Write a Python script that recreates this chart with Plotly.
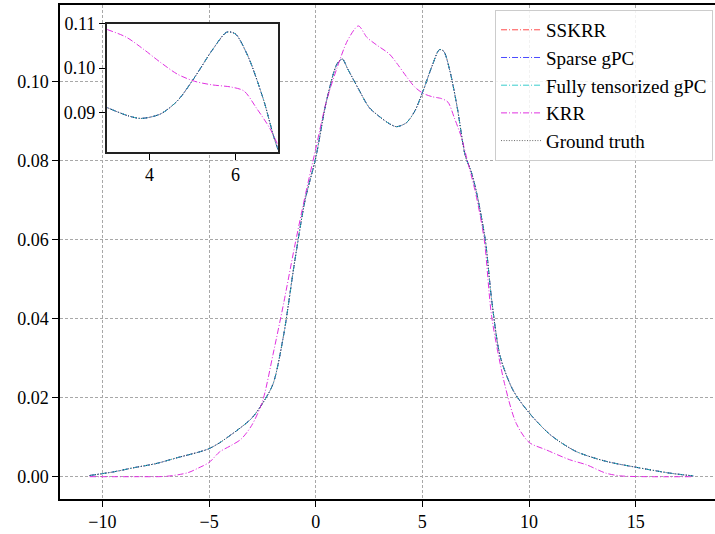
import plotly.graph_objects as go

# ---- data ----
truth_x = [-10.6, -9.5, -8.5, -7.5, -6.5, -5.5, -5.0, -4.5, -4.0, -3.5, -3.0, -2.5, -2.0,
           -1.5, -1.0, -0.5, 0.0, 0.5, 1.0, 1.25, 1.5, 2.0, 2.5, 3.0, 3.5, 3.8, 4.25, 4.65,
           5.05, 5.45, 5.8, 6.0, 6.3, 6.65, 7.0, 7.3, 7.55, 7.95, 8.25, 8.65, 9.25, 10.0,
           11.0, 12.2, 13.6, 15.0, 16.6, 17.7]
truth_y = [0.0003, 0.0012, 0.0023, 0.0033, 0.0048, 0.0062, 0.0071, 0.0086, 0.0105, 0.0125,
           0.0148, 0.0185, 0.0235, 0.036, 0.054, 0.070, 0.0807, 0.095, 0.1045, 0.1057,
           0.1032, 0.0982, 0.0935, 0.0911, 0.0892, 0.0886, 0.0896, 0.0926, 0.0979, 0.1039,
           0.1081, 0.1077, 0.1025, 0.0930, 0.0815, 0.0770, 0.0717, 0.0599, 0.0447, 0.0304,
           0.0219, 0.0162, 0.0106, 0.0064, 0.0039, 0.0024, 0.0009, 0.0002]

# the three surrogate models are visually indistinguishable from the ground truth
sskrr_y = list(truth_y)
sparse_gpc_y = list(truth_y)
full_gpc_y = list(truth_y)

krr_x = [-10.6, -8.5, -7.0, -6.0, -5.5, -5.0, -4.5, -4.0, -3.5, -3.0, -2.5, -2.0, -1.5,
         -1.0, -0.5, 0.0, 0.5, 1.0, 1.5, 2.0, 2.4, 2.85, 3.45, 3.85, 4.25, 4.65, 5.05, 5.45,
         5.9, 6.2, 6.5, 6.8, 7.05, 7.5, 7.9, 8.25, 8.85, 9.4, 10.0, 10.8, 11.9, 12.7, 13.6,
         14.3, 15.5, 17.7]
krr_y = [0.0, 0.0, 0.0001, 0.0010, 0.0022, 0.0036, 0.0063, 0.0078, 0.0095, 0.0130, 0.0190,
         0.0310, 0.044, 0.058, 0.071, 0.083, 0.095, 0.1035, 0.1105, 0.1141, 0.1112, 0.1093,
         0.1070, 0.1043, 0.1013, 0.0986, 0.0970, 0.0962, 0.0957, 0.0948, 0.0908, 0.0864,
         0.0813, 0.0717, 0.0600, 0.0405, 0.0236, 0.0135, 0.0087, 0.0068, 0.0043, 0.0030,
         0.0009, 0.0002, 0.0, 0.0]

series = [
    ("SSKRR", truth_x, sskrr_y, "#ff4a4a", "6px,2px,1px,2px"),
    ("Sparse gPC", truth_x, sparse_gpc_y, "#4a4aff", "6px,2px,1px,2px"),
    ("Fully tensorized gPC", truth_x, full_gpc_y, "#38cccc", "6px,2px,1px,2px"),
    ("KRR", krr_x, krr_y, "#e030e0", "6px,2px,1px,2px"),
    ("Ground truth", truth_x, truth_y, "rgba(0,0,0,0.6)", "1px,1.6px"),
]

x_ticks = [-10, -5, 0, 5, 10, 15]
y_ticks = [0.00, 0.02, 0.04, 0.06, 0.08, 0.10]
inset_x_ticks = [4, 6]
inset_y_ticks = [0.09, 0.10, 0.11]

FONT = "Liberation Serif"

fig = go.Figure()
for name, xs, ys, col, dash in series:
    fig.add_trace(go.Scatter(x=xs, y=ys, name=name, mode="lines",
                             line=dict(color=col, width=1, dash=dash, shape="spline", smoothing=0.8),
                             xaxis="x", yaxis="y"))
for name, xs, ys, col, dash in series:
    fig.add_trace(go.Scatter(x=xs, y=ys, name=name, mode="lines", showlegend=False,
                             line=dict(color=col, width=1, dash=dash, shape="spline", smoothing=0.8),
                             xaxis="x2", yaxis="y2"))

inset_dom_x = [0.0713, 0.3333]
inset_dom_y = [0.7023, 0.962]

fig.update_layout(
    width=715, height=534,
    margin=dict(l=60, r=0, t=5, b=35, autoexpand=False),
    paper_bgcolor="white", plot_bgcolor="white",
    font=dict(family=FONT, size=18, color="black"),
    showlegend=True,
    legend=dict(x=0.997, y=0.99, xanchor="right", yanchor="top", itemwidth=40,
                bgcolor="rgba(255,255,255,0.85)", bordercolor="#cccccc", borderwidth=1,
                font=dict(family=FONT, size=19), tracegroupgap=0),
    xaxis=dict(range=[-11.99, 18.72], tickvals=x_ticks, ticks="outside", ticklen=6,
               tickwidth=1.2, tickcolor="black", showline=True, linecolor="black", linewidth=1.5,
               mirror=True, showgrid=True, gridcolor="#a8a8a8", gridwidth=1, griddash="3px,2px",
               zeroline=False, domain=[0, 1], automargin=False),
    yaxis=dict(range=[-0.00565, 0.1194], tickvals=y_ticks, tickformat=".2f", ticks="outside",
               ticklen=6, tickwidth=1.2, tickcolor="black", showline=True, linecolor="black",
               linewidth=1.5, showgrid=True, gridcolor="#a8a8a8", gridwidth=1,
               griddash="3px,2px", zeroline=False, domain=[0, 1], automargin=False),
    xaxis2=dict(domain=inset_dom_x, anchor="y2", range=[3, 7], tickvals=inset_x_ticks,
                ticks="outside", ticklen=6, tickwidth=1.2, tickcolor="black", showline=True,
                mirror=True, linecolor="#222222", linewidth=1.5, showgrid=False, zeroline=False,
                automargin=False),
    yaxis2=dict(domain=inset_dom_y, anchor="x2", range=[0.081, 0.110], tickvals=inset_y_ticks,
                tickformat=".2f", ticks="outside", ticklen=6, tickwidth=1.2, tickcolor="black",
                showline=True, mirror=True, linecolor="#222222", linewidth=1.5, showgrid=False,
                zeroline=False, automargin=False),
    shapes=[dict(type="rect", xref="paper", yref="paper", x0=inset_dom_x[0], x1=inset_dom_x[1],
                 y0=inset_dom_y[0], y1=inset_dom_y[1], fillcolor="white", line=dict(width=0),
                 layer="between")],
)

fig.write_html("out.html", config={"displayModeBar": False},
               post_script="document.body.style.margin='0';document.body.style.padding='0';")
